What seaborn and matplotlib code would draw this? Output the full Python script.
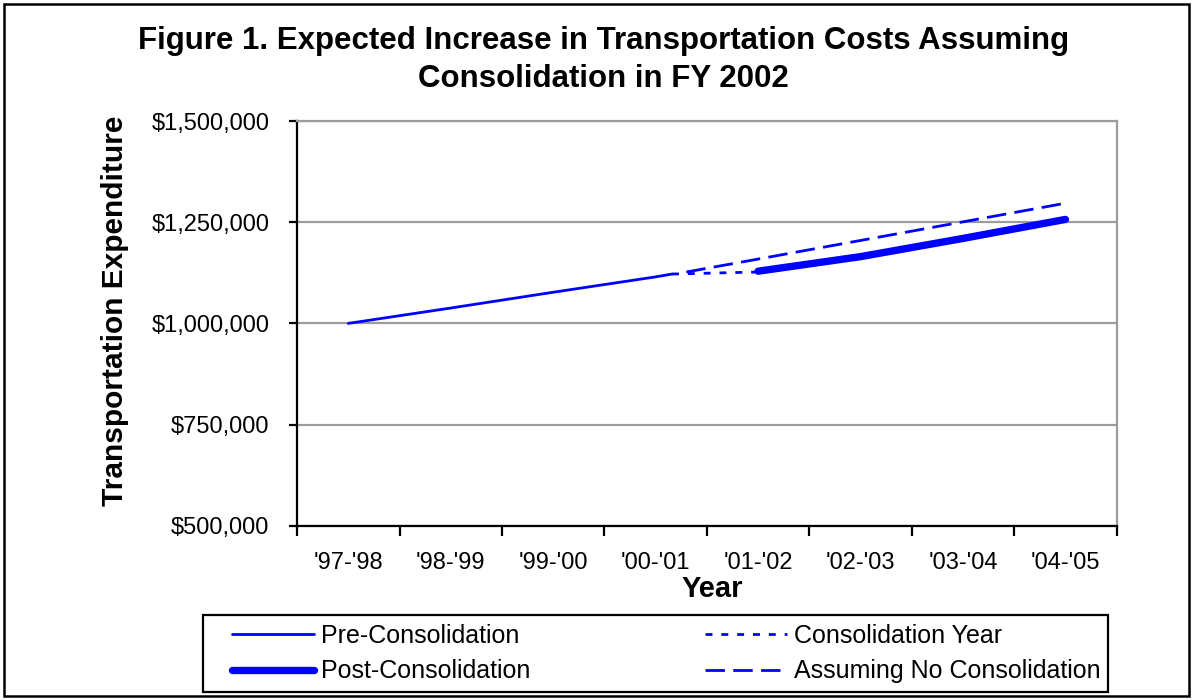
import matplotlib
matplotlib.use("Agg")
import matplotlib.pyplot as plt
import matplotlib.ticker as mticker
from matplotlib.patches import Rectangle
from matplotlib.lines import Line2D
import seaborn as sns

# categories on the x axis (fiscal years)
years = ["'97-'98", "'98-'99", "'99-'00", "'00-'01", "'01-'02", "'02-'03", "'03-'04", "'04-'05"]

# series, x given as position along the year axis (0 = '97-'98)
pre_x = [0, 1, 2, 3, 3.16]
pre_y = [1000000, 1038000, 1077000, 1115000, 1122000]

cons_x = [3.16, 4]
cons_y = [1122000, 1127000]

post_x = [4, 5, 6, 7]
post_y = [1129000, 1165000, 1210000, 1257000]

nocons_x = [3.3, 4, 5, 6, 7]
nocons_y = [1127000, 1159000, 1205000, 1251000, 1297000]

sns.set_theme(style="white")
plt.rcParams["font.family"] = ["Liberation Sans", "DejaVu Sans"]
plt.rcParams["text.color"] = "black"
plt.rcParams["axes.labelcolor"] = "black"
plt.rcParams["xtick.color"] = "black"
plt.rcParams["ytick.color"] = "black"

blue = "#0000FF"
grey = "#9C9C9C"
dot_style = (0, (2.5, 3.2))
dash_style = (0, (7, 3))

fig, ax = plt.subplots(figsize=(11.93, 7), dpi=100)
fig.subplots_adjust(left=0.249, right=0.936, bottom=0.249, top=0.827)

sns.lineplot(x=pre_x, y=pre_y, ax=ax, color=blue, lw=2.0, sort=False, estimator=None)
sns.lineplot(x=cons_x, y=cons_y, ax=ax, color=blue, lw=2.0, sort=False, estimator=None,
             linestyle=dot_style)
sns.lineplot(x=post_x, y=post_y, ax=ax, color=blue, lw=5.3, sort=False, estimator=None,
             solid_capstyle="round")
sns.lineplot(x=nocons_x, y=nocons_y, ax=ax, color=blue, lw=2.0, sort=False, estimator=None,
             linestyle=dash_style)

# axes
ax.set_xlim(-0.5, len(years) - 0.5)
ax.set_ylim(500000, 1500000)
ax.set_yticks([500000, 750000, 1000000, 1250000, 1500000])
ax.yaxis.set_major_formatter(mticker.FuncFormatter(lambda v, p: f"${v:,.0f}"))
ax.set_xticks([i - 0.5 for i in range(len(years) + 1)])
ax.set_xticklabels([])
ax.set_xticks(range(len(years)), minor=True)
ax.set_xticklabels(years, minor=True)
ax.tick_params(axis="x", which="minor", length=0, labelsize=17, pad=19)
ax.tick_params(axis="x", which="major", direction="out", length=7, width=1.6, color="black", bottom=True)
ax.tick_params(axis="y", direction="out", length=6, width=1.6, color="black", labelsize=17, pad=14, left=True)

ax.grid(axis="y", color=grey, lw=1.6)
ax.grid(axis="x", visible=False)
for side in ["left", "bottom"]:
    ax.spines[side].set_color("black")
    ax.spines[side].set_linewidth(1.6)
for side in ["top", "right"]:
    ax.spines[side].set_color(grey)
    ax.spines[side].set_linewidth(1.6)

ax.set_xlabel("Year", fontsize=21, fontweight="bold")
ax.set_ylabel("Transportation Expenditure", fontsize=21.5, fontweight="bold")
ax.xaxis.set_label_coords(0.506, -0.122)
ax.yaxis.set_label_coords(-0.205, 0.53)

fig.text(0.506, 0.914, "Figure 1. Expected Increase in Transportation Costs Assuming\nConsolidation in FY 2002",
         ha="center", va="center", fontsize=22.5, fontweight="bold", linespacing=1.35)

# legend
handles = [
    Line2D([], [], color=blue, lw=2.0),
    Line2D([], [], color=blue, lw=5.3, solid_capstyle="round"),
    Line2D([], [], color=blue, lw=2.0, linestyle=dot_style),
    Line2D([], [], color=blue, lw=2.0, linestyle=dash_style),
]
labels = ["Pre-Consolidation", "Post-Consolidation", "Consolidation Year", "Assuming No Consolidation"]
fig.legend(handles, labels, loc="center", bbox_to_anchor=(0.5587, 0.0664), ncol=2, frameon=False,
           fontsize=18, handlelength=3.28, handletextpad=0.28, columnspacing=7.0, labelspacing=0.47)
fig.patches.append(Rectangle((203 / 1193, 1 - 692 / 700), 905 / 1193, 77 / 700,
                             transform=fig.transFigure, fill=False, ec="black", lw=1.6))
fig.patches.append(Rectangle((4 / 1193, 4 / 700), 1185 / 1193, 692 / 700,
                             transform=fig.transFigure, fill=False, ec="black", lw=1.8))

fig.savefig("out.png", dpi=100)
